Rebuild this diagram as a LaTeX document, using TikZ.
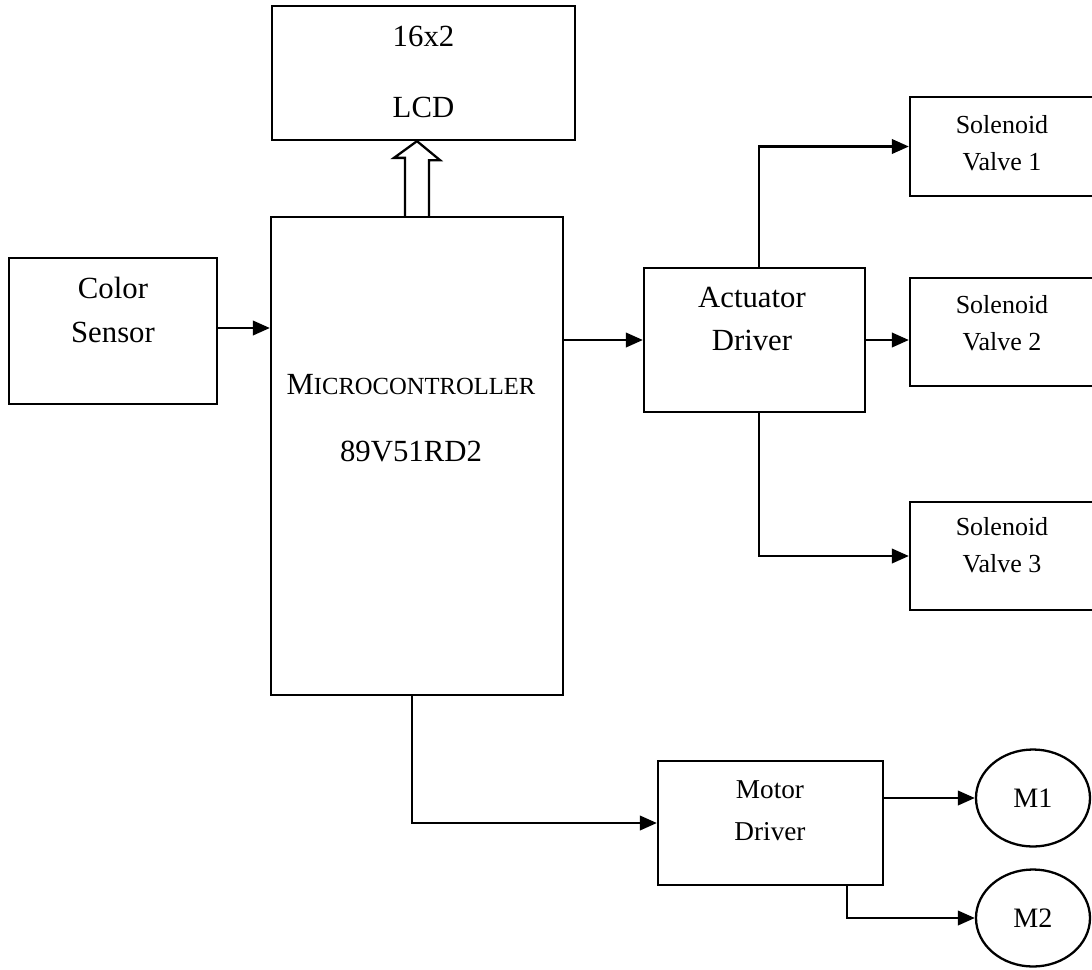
\documentclass[tikz,border=0pt]{standalone}
\usepackage{fontspec}
\setmainfont{Liberation Serif}
\usepackage{tikz}
\usetikzlibrary{arrows.meta, positioning, calc, shapes.geometric}

\begin{document}
\begin{tikzpicture}[x=0.2mm, y=-0.2mm,
  blk/.style={draw, line width=1.3pt, inner sep=0pt},
  link/.style={line width=1.3pt, -{Triangle[length=3.4mm, width=2.9mm]}},
  txtbig/.style={align=center, font=\fontsize{17.5}{25}\selectfont},
  txtsmall/.style={align=center, font=\fontsize{14.8}{21}\selectfont}]
  \useasboundingbox (0,0) rectangle (1092,969);

  % blocks
  \node[blk, minimum width=60.6mm, minimum height=26.8mm] (lcd) at (423.5,73) {};
  \node[blk, minimum width=58.4mm, minimum height=95.6mm] (micro) at (417,456) {};
  \node[blk, minimum width=41.6mm, minimum height=29.2mm] (sensor) at (113,331) {};
  \node[blk, minimum width=44.2mm, minimum height=28.8mm] (act) at (754.5,340) {};
  \node[blk, minimum width=45mm, minimum height=24.8mm] (motor) at (770.5,823) {};
  \foreach \n/\y/\h/\t in {1/146.5/19.8/143.5, 2/332/21.6/323.5, 3/556/21.6/545} {
    \node[blk, minimum width=36.8mm, minimum height=\h mm] (sv\n) at (1002,\y) {};
    \node[txtsmall] at (1002,\t) {Solenoid\\Valve \n};
  }
  \node[blk, ellipse, minimum width=22.8mm, minimum height=19.4mm,
        font=\fontsize{16}{18}\selectfont] (m1) at (1033,798) {M1\hspace{2mm}};
  \node[blk, ellipse, minimum width=22.8mm, minimum height=19.4mm,
        font=\fontsize{16}{18}\selectfont] (m2) at (1033,918) {M2\hspace{2mm}};

  % texts
  \node[txtbig, font=\fontsize{17.5}{40}\selectfont] at (423.5,72) {16x2\\LCD};
  \node[txtbig] at (113,310) {Color\\Sensor};
  \node[txtbig] at (752,319) {Actuator\\Driver};
  \node[txtsmall, font=\fontsize{15.5}{24}\selectfont] at (770,811) {Motor\\Driver};
  \node[txtbig, font=\fontsize{17.5}{38}\selectfont] at (411,418.5)
       {M{\fontsize{14}{14}\selectfont ICROCONTROLLER}\\89V51RD2};

  % connectors
  \draw[link] ($(sensor.east)+(0,-3)$) -- ($(sensor.east -| micro.west)+(0,-3)$);
  \draw[link] (act.west -| micro.east) -- (act.west);
  \draw[link] ($(act.north)+(4.5,0)$) |- (sv1.west);
  \draw[link] (act.east) -- (act.east -| sv2.west);
  \draw[link] ($(act.south)+(4.5,0)$) |- (sv3.west);
  \draw[link] ($(micro.south)+(-5,0)$) |- (motor.west);
  \draw[link] (motor.east |- m1.west) -- (m1.west);
  \draw[link] ($(motor.south)+(76.5,0)$) |- (m2.west);
  \draw[line width=1.3pt] ($(micro.north)+(-12,0)$) -- ++(0,-58) -- ++(-11,0)
       -- (micro.north |- lcd.south) -- ++(23,19) -- ++(-11,0)
       -- ($(micro.north)+(12,0)$);
\end{tikzpicture}
\end{document}
